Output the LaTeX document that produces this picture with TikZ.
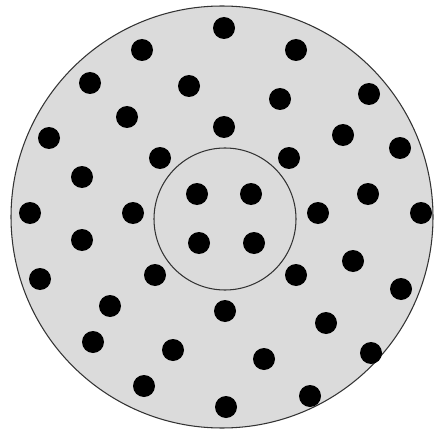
\documentclass[tikz,border=0pt]{standalone}
\begin{document}
\begin{tikzpicture}[x=0.02cm,y=-0.02cm]
            \useasboundingbox (0,0) rectangle (436,429);
            \draw[line width=0.6pt,draw=black!80,fill=black!14] (222,217) circle (211); %外側の円
            \draw[line width=0.6pt,draw=black!80] (225,219) circle (71); %内側の円
            %粒子
            \foreach \x/\y in {224/28,142/50,296/50,90/83,189/86,280/99,369/94,127/117,224/127,343/135,
                49/138,400/148,160/158,289/158,82/177,197/194,251/194,368/194,30/213,133/213,
                318/213,421/213,82/240,199/243,254/243,353/261,40/279,155/275,296/275,401/289,
                110/306,225/311,326/323,93/342,173/350,264/359,371/353,144/386,310/396,226/407}
                \fill (\x,\y) circle (11);
        \end{tikzpicture}
\end{document}
